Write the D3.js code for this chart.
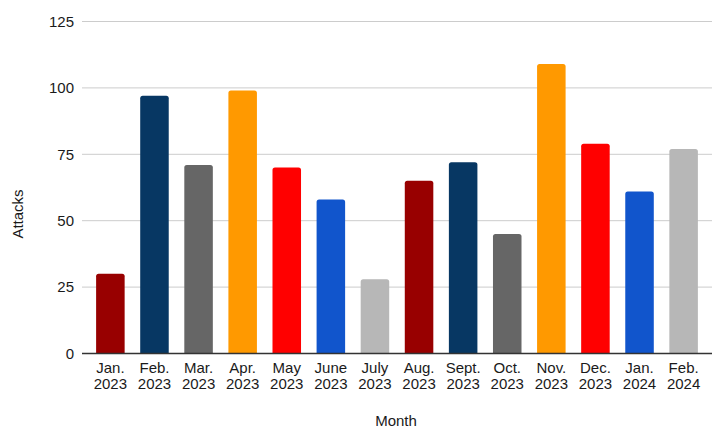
<!DOCTYPE html>
<html><head><meta charset="utf-8">
<script src="https://cdn.jsdelivr.net/npm/d3@7"></script>
<style>html,body{margin:0;padding:0;background:#fff;}svg{display:block;font-family:"Liberation Sans",Arial,sans-serif;}</style>
</head><body>
<svg id="c" width="728" height="436"></svg>
<script>
const months = ["Jan.","Feb.","Mar.","Apr.","May","June","July","Aug.","Sept.","Oct.","Nov.","Dec.","Jan.","Feb."];
const years = ["2023","2023","2023","2023","2023","2023","2023","2023","2023","2023","2023","2023","2024","2024"];
const attacks = [30,97,71,99,70,58,28,65,72,45,109,79,61,77];
const barColors = ["#980000","#073763","#666666","#ff9900","#ff0000","#1155cc","#b7b7b7","#980000","#073763","#666666","#ff9900","#ff0000","#1155cc","#b7b7b7"];
const yTicks = [0,25,50,75,100,125];

const svg = d3.select("#c");
const mLeft = 82, mRight = 712, mTop = 21.5, mBottom = 353.5;
const keys = months.map((m,i)=>i);
const x = d3.scaleBand().domain(keys).range([mLeft,mRight]).paddingInner(0.353).paddingOuter(0.32);
const y = d3.scaleLinear().domain([0,125]).range([mBottom,mTop]);

// gridlines
svg.append("g").selectAll("line").data(yTicks.filter(d=>d>0)).join("line")
  .attr("x1",mLeft).attr("x2",mRight).attr("y1",d=>y(d)).attr("y2",d=>y(d))
  .attr("stroke","#cccccc").attr("stroke-width",1);

// y axis labels
const yAxis = d3.axisLeft(y).tickValues(yTicks).tickSize(0).tickPadding(8);
const ya = svg.append("g").attr("transform",`translate(${mLeft},0)`).call(yAxis);
ya.select(".domain").remove();
ya.selectAll("text").attr("font-size",15).attr("fill","#1a1a1a").attr("font-family","'Liberation Sans',Arial,sans-serif");

// bars
svg.append("g").selectAll("path").data(attacks).join("path")
  .attr("d",(d,i)=>{
    const x0=x(i), w=x.bandwidth(), y0=y(d), yb=y(0), r=2.5;
    return `M${x0},${yb}V${y0+r}Q${x0},${y0} ${x0+r},${y0}H${x0+w-r}Q${x0+w},${y0} ${x0+w},${y0+r}V${yb}Z`;
  })
  .attr("fill",(d,i)=>barColors[i]);

// baseline
svg.append("line").attr("x1",mLeft).attr("x2",mRight).attr("y1",y(0)).attr("y2",y(0))
  .attr("stroke","#333333").attr("stroke-width",1.3);

// x axis labels
const xAxis = d3.axisBottom(x).tickSize(0).tickFormat(()=> "");
const xa = svg.append("g").attr("transform",`translate(0,${mBottom})`).call(xAxis);
xa.select(".domain").remove();
xa.selectAll(".tick").each(function(i){
  const g = d3.select(this);
  g.append("text").attr("fill","#1a1a1a").attr("font-size",15).attr("text-anchor","middle")
    .attr("x",0).attr("y",19.5).text(months[i]);
  g.append("text").attr("fill","#1a1a1a").attr("font-size",15).attr("text-anchor","middle")
    .attr("x",0).attr("y",35.5).text(years[i]);
});

// axis titles
svg.append("text").attr("x",396).attr("y",426).attr("text-anchor","middle").attr("font-size",15).attr("fill","#1a1a1a").text("Month");
svg.append("text").attr("transform","translate(23,214) rotate(-90)").attr("text-anchor","middle").attr("font-size",15).attr("fill","#1a1a1a").text("Attacks");
</script>
</body></html>
